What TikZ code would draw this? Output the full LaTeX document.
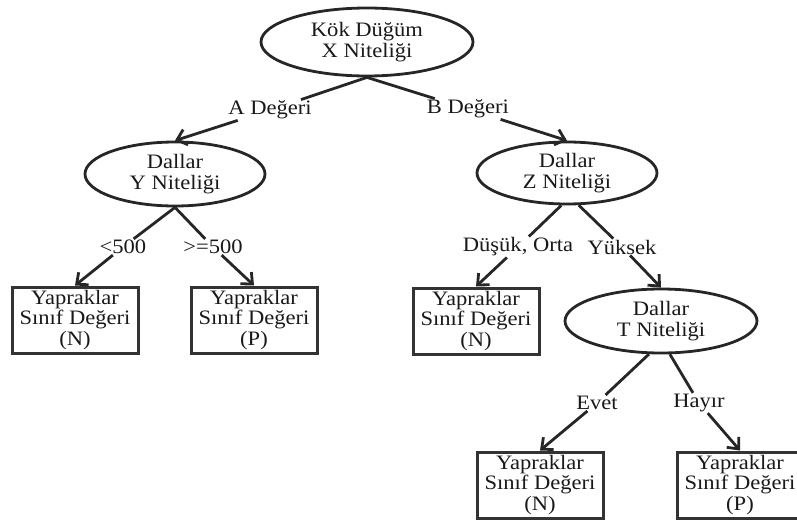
\documentclass[tikz,border=0pt]{standalone}
\usepackage{fontspec}
\setmainfont[FakeStretch=1.1]{Liberation Serif}
\usetikzlibrary{arrows.meta,shapes.geometric}

\begin{document}
\begin{tikzpicture}[x=1pt,y=-1pt,
  every node/.style={font=\fontsize{20.5}{20.5}\selectfont, text=black!90, align=center},
  decision/.style={ellipse, draw=black!85, line width=2.8pt, inner sep=0pt,
                   minimum width=180pt, minimum height=64pt},
  leaf/.style={rectangle, draw=black!80, line width=3pt, inner sep=0pt,
               minimum width=126pt, minimum height=66pt},
  branch/.style={inner sep=1pt},
  link/.style={draw=black!85, line width=2.8pt},
  arrowlink/.style={link, -{Straight Barb[length=9pt,width=16pt,line width=2.8pt]}}
]
\useasboundingbox (0,0) rectangle (797,519);

% decision nodes
\node[decision, minimum width=212pt, minimum height=68pt] (root) at (367,42) {Kök Düğüm\\X Niteliği};
\node[decision] (ny) at (175,174) {Dallar\\Y Niteliği};
\node[decision, minimum height=62pt] (nz) at (567,173) {Dallar\\Z Niteliği};
\node[decision, minimum width=192pt] (nt) at (661,321) {Dallar\\T Niteliği};

% leaves
\node[leaf] (l1) at (75,320) {Yapraklar\\Sınıf Değeri\\(N)};
\node[leaf] (l2) at (254,320) {Yapraklar\\Sınıf Değeri\\(P)};
\node[leaf] (l3) at (476,321) {Yapraklar\\Sınıf Değeri\\(N)};
\node[leaf] (l4) at (540,485) {Yapraklar\\Sınıf Değeri\\(N)};
\node[leaf] (l5) at (740,485) {Yapraklar\\Sınıf Değeri\\(P)};

% branch labels
\node[branch] (ba) at (270,110) {A Değeri};
\node[branch] (bb) at (468,109) {B Değeri};
\node[branch] (blt) at (123,247) {<500};
\node[branch] (bge) at (213,247) {>=500};
\node[branch] (bdo) at (518,247) {Düşük, Orta};
\node[branch] (byu) at (622,247) {Yüksek};
\node[branch] (bev) at (597,403) {Evet};
\node[branch] (bha) at (699,403) {Hayır};

% root branches
\draw[link] (root.south) -- (ba);
\draw[arrowlink] (ba) -- (ny.north);
\draw[link] (root.south) -- (bb);
\draw[arrowlink] (bb) -- (nz.north);

% Y branches
\draw[link] (ny.south) -- (blt);
\draw[arrowlink] (blt) -- (l1.north);
\draw[link] (ny.south) -- (bge);
\draw[arrowlink] (bge) -- (l2.north);

% Z branches
\draw[link] (nz.-100) -- (bdo);
\draw[arrowlink] (bdo) -- (l3.north);
\draw[link] (nz.-70) -- (byu);
\draw[arrowlink] (byu) -- (nt.north);

% T branches
\draw[link] (nt.-110) -- (bev);
\draw[arrowlink] (bev) -- (l4.north);
\draw[link] (nt.-75) -- (bha);
\draw[arrowlink] (bha) -- (l5.north);
\end{tikzpicture}
\end{document}
